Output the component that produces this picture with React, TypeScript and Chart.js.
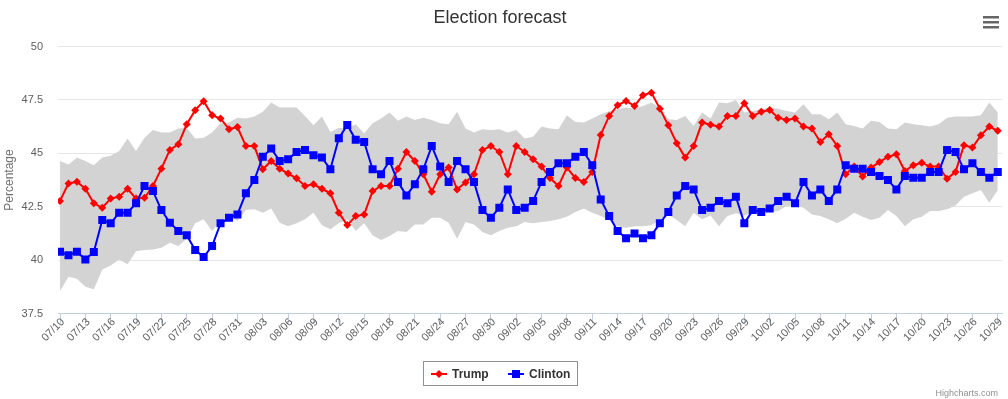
import React, { useEffect, useRef } from 'react';
import { Chart, registerables } from 'chart.js';

Chart.register(...registerables);

const dates = [
  '07/10','07/11','07/12','07/13','07/14','07/15','07/16','07/17','07/18','07/19','07/20','07/21','07/22','07/23','07/24','07/25','07/26','07/27','07/28','07/29','07/30','07/31',
  '08/01','08/02','08/03','08/04','08/05','08/06','08/07','08/08','08/09','08/10','08/11','08/12','08/13','08/14','08/15','08/16','08/17','08/18','08/19','08/20','08/21','08/22','08/23','08/24','08/25','08/26','08/27','08/28','08/29','08/30','08/31',
  '09/01','09/02','09/03','09/04','09/05','09/06','09/07','09/08','09/09','09/10','09/11','09/12','09/13','09/14','09/15','09/16','09/17','09/18','09/19','09/20','09/21','09/22','09/23','09/24','09/25','09/26','09/27','09/28','09/29','09/30',
  '10/01','10/02','10/03','10/04','10/05','10/06','10/07','10/08','10/09','10/10','10/11','10/12','10/13','10/14','10/15','10/16','10/17','10/18','10/19','10/20','10/21','10/22','10/23','10/24','10/25','10/26','10/27','10/28','10/29',
];

const trump = [
  42.77, 43.59, 43.67, 43.34, 42.66, 42.45, 42.88, 42.97, 43.34, 42.88,
  42.92, 43.47, 44.28, 45.16, 45.42, 46.36, 47.02, 47.44, 46.78, 46.63,
  46.13, 46.23, 45.34, 45.34, 44.25, 44.64, 44.28, 44.05, 43.83, 43.47,
  43.55, 43.34, 43.13, 42.22, 41.64, 42.06, 42.14, 43.23, 43.47, 43.47,
  44.28, 45.06, 44.64, 44.02, 43.2, 44.02, 44.33, 43.31, 43.63, 44.02,
  45.16, 45.34, 45.06, 44.02, 45.34, 45.06, 44.72, 44.38, 43.84, 43.47,
  44.33, 43.84, 43.66, 44.13, 45.86, 46.75, 47.25, 47.45, 47.22, 47.72,
  47.84, 47.09, 46.31, 45.47, 44.8, 45.34, 46.44, 46.34, 46.25, 46.75,
  46.75, 47.34, 46.75, 46.94, 47.03, 46.67, 46.56, 46.63, 46.25, 46.16,
  45.53, 45.89, 45.34, 44.02, 44.38, 43.91, 44.33, 44.59, 44.84, 44.95,
  44.17, 44.44, 44.56, 44.38, 44.38, 43.81, 44.13, 45.38, 45.27, 45.84,
  46.25, 46.05,
];

const clinton = [
  40.39, 40.23, 40.39, 40.03, 40.38, 41.88, 41.72, 42.22, 42.22, 42.66,
  43.47, 43.23, 42.34, 41.75, 41.36, 41.16, 40.47, 40.14, 40.66, 41.72,
  41.98, 42.14, 43.13, 43.75, 44.84, 45.22, 44.64, 44.72, 45.06, 45.16,
  44.91, 44.8, 44.25, 45.7, 46.33, 45.63, 45.53, 44.25, 44.02, 44.64,
  43.66, 43.03, 43.55, 44.25, 45.34, 44.38, 43.66, 44.64, 44.25, 43.66,
  42.34, 41.98, 42.45, 43.31, 42.34, 42.45, 42.77, 43.66, 44.13, 44.53,
  44.53, 44.84, 45.06, 44.44, 42.84, 42.06, 41.36, 41.02, 41.25, 41.02,
  41.16, 41.72, 42.25, 43.03, 43.47, 43.31, 42.34, 42.45, 42.77, 42.66,
  42.97, 41.72, 42.34, 42.25, 42.41, 42.77, 42.97, 42.66, 43.66, 43.03,
  43.31, 42.77, 43.31, 44.44, 44.28, 44.28, 44.13, 43.94, 43.75, 43.31,
  43.94, 43.86, 43.86, 44.13, 44.13, 45.16, 45.06, 44.25, 44.53, 44.13,
  43.86, 44.13,
];

const bandHigh = [
  44.64, 44.48, 44.8, 44.64, 44.44, 44.8, 44.88, 45.11, 45.69, 45.11,
  45.73, 46.09, 45.97, 45.97, 46.16, 46.2, 45.69, 45.73, 45.97, 46.41,
  46.44, 46.67, 46.63, 46.72, 46.94, 47.38, 47.14, 47.14, 47.14, 46.75,
  46.31, 46.72, 46.0, 46.2, 46.16, 46.36, 45.94, 46.41, 46.63, 46.91,
  46.52, 46.72, 46.56, 46.67, 46.56, 46.41, 46.36, 46.94, 46.16, 45.97,
  46.13, 46.09, 46.13, 45.97, 46.09, 45.69, 45.78, 46.25, 46.16, 46.13,
  46.78, 46.47, 46.44, 46.63, 46.83, 46.97, 47.06, 47.14, 47.09, 47.22,
  47.38, 47.14, 46.59, 46.56, 46.75, 46.28, 46.91, 46.63, 47.38, 47.34,
  47.5, 46.91, 46.98, 47.06, 47.14, 47.09, 46.98, 46.91, 47.3, 46.83,
  46.83, 46.59, 46.91, 46.36, 46.28, 46.16, 46.52, 46.47, 46.16, 46.13,
  46.44, 46.36, 46.31, 46.25, 46.36, 46.67, 46.72, 46.72, 46.72, 46.78,
  47.38, 46.91,
];

const bandLow = [
  38.55, 39.22, 39.13, 38.75, 38.63, 39.56, 39.75, 40.03, 39.8, 40.42,
  40.47, 40.5, 40.58, 40.81, 40.66, 41.0, 41.72, 41.91, 41.36, 41.83,
  42.06, 41.83, 42.34, 42.38, 42.22, 42.41, 41.75, 41.59, 41.72, 41.91,
  42.22, 41.63, 41.44, 41.72, 41.91, 41.36, 41.72, 41.16, 40.94, 41.13,
  41.36, 41.31, 41.67, 41.67, 41.98, 41.98, 41.75, 41.0, 41.78, 41.67,
  41.31, 41.16, 41.36, 41.52, 41.59, 41.78, 41.72, 41.78, 41.83, 41.91,
  42.03, 42.25, 42.41, 42.22, 42.06, 41.88, 41.59, 41.52, 41.59, 41.59,
  41.63, 41.88, 42.14, 41.88, 41.59, 42.22, 41.91, 42.09, 41.59, 42.06,
  42.19, 42.09, 42.19, 42.22, 42.25, 42.3, 42.53, 42.56, 42.45, 42.14,
  42.06, 41.91, 41.72, 41.94, 42.22, 42.03, 41.88, 41.98, 42.34, 42.06,
  41.59, 41.91, 42.03, 42.3, 42.3, 42.38, 42.56, 42.97, 43.13, 43.28,
  42.69, 43.28,
];

const seriesNames = ['Trump', 'Clinton'];
const seriesColors = ['#FF0000', '#0000FF'];
const yTickValues = [37.5, 40, 42.5, 45, 47.5, 50];
const labelEvery = 3;

const FONT = '"Liberation Sans", Arial, Helvetica, sans-serif';

const toXY = (arr: number[]) => arr.map((v, i) => ({ x: i, y: v }));

const decorPlugin = {
  id: 'decor',
  afterDraw(chart: any) {
    const ctx = chart.ctx as CanvasRenderingContext2D;
    ctx.save();
    // title
    ctx.fillStyle = '#333333';
    ctx.font = `18px ${FONT}`;
    ctx.textAlign = 'center';
    ctx.textBaseline = 'middle';
    ctx.fillText('Election forecast', 500, 18);
    // menu icon
    ctx.fillStyle = '#666666';
    for (const yy of [16, 21, 26]) ctx.fillRect(983, yy, 16, 2.5);
    // legend box
    ctx.strokeStyle = '#909090';
    ctx.lineWidth = 1;
    ctx.strokeRect(423.5, 361.5, 154, 24);
    const ly = 374;
    // Trump item
    ctx.strokeStyle = seriesColors[0];
    ctx.lineWidth = 2;
    ctx.beginPath();
    ctx.moveTo(431, ly);
    ctx.lineTo(447, ly);
    ctx.stroke();
    ctx.fillStyle = seriesColors[0];
    ctx.beginPath();
    ctx.moveTo(439, ly - 4);
    ctx.lineTo(443, ly);
    ctx.lineTo(439, ly + 4);
    ctx.lineTo(435, ly);
    ctx.closePath();
    ctx.fill();
    // Clinton item
    ctx.strokeStyle = seriesColors[1];
    ctx.beginPath();
    ctx.moveTo(508, ly);
    ctx.lineTo(524, ly);
    ctx.stroke();
    ctx.fillStyle = seriesColors[1];
    ctx.fillRect(512, ly - 4, 8, 8);
    // legend texts
    ctx.fillStyle = '#333333';
    ctx.font = `bold 12px ${FONT}`;
    ctx.textAlign = 'left';
    ctx.textBaseline = 'middle';
    ctx.fillText(seriesNames[0], 452, ly + 1);
    ctx.fillText(seriesNames[1], 529, ly + 1);
    // credits
    ctx.fillStyle = '#909090';
    ctx.font = `9px ${FONT}`;
    ctx.textAlign = 'right';
    ctx.textBaseline = 'alphabetic';
    ctx.fillText('Highcharts.com', 998, 396);
    ctx.restore();
  },
};

export default function App() {
  const ref = useRef<HTMLCanvasElement | null>(null);

  useEffect(() => {
    if (!ref.current) return;
    const chart = new Chart(ref.current, {
      type: 'line',
      data: {
        datasets: [
          {
            label: seriesNames[1],
            data: toXY(clinton),
            borderColor: seriesColors[1],
            backgroundColor: seriesColors[1],
            borderWidth: 2,
            pointStyle: 'rect',
            pointRadius: 5.66,
            pointBorderWidth: 0,
            tension: 0,
            fill: false,
          },
          {
            label: seriesNames[0],
            data: toXY(trump),
            borderColor: seriesColors[0],
            backgroundColor: seriesColors[0],
            borderWidth: 2,
            pointStyle: 'rectRot',
            pointRadius: 4,
            pointBorderWidth: 0,
            tension: 0,
            fill: false,
          },
          {
            label: 'low',
            data: toXY(bandLow),
            borderColor: 'transparent',
            backgroundColor: 'transparent',
            borderWidth: 0,
            pointRadius: 0,
            tension: 0,
            fill: false,
          },
          {
            label: 'high',
            data: toXY(bandHigh),
            borderColor: 'transparent',
            backgroundColor: 'rgb(211,211,211)',
            borderWidth: 0,
            pointRadius: 0,
            tension: 0,
            fill: '-1',
          },
        ],
      },
      options: {
        responsive: false,
        animation: false,
        devicePixelRatio: 1,
        layout: { padding: { top: 46.5, right: 6, bottom: 0, left: 0 } },
        plugins: {
          legend: { display: false },
          title: { display: false },
          tooltip: { enabled: false },
        },
        events: [],
        scales: {
          x: {
            type: 'linear',
            min: -0.24,
            max: 111.5,
            afterBuildTicks: (s: any) => {
              s.ticks = dates
                .map((_, i) => i)
                .filter((i) => i % labelEvery === 0)
                .map((v) => ({ value: v }));
            },
            afterFit: (s: any) => {
              s.height = 85.5;
            },
            ticks: {
              autoSkip: false,
              minRotation: 45,
              maxRotation: 45,
              padding: -8,
              labelOffset: 3,
              color: '#606060',
              font: { size: 11, family: FONT },
              callback: (v: any) => dates[Math.round(Number(v))] ?? '',
            },
            grid: {
              drawOnChartArea: false,
              color: '#C0D0E0',
              tickLength: 10,
            },
            border: { color: '#C0D0E0', width: 1 },
          },
          y: {
            min: 37.5,
            max: 50,
            afterBuildTicks: (s: any) => {
              s.ticks = yTickValues.map((v) => ({ value: v }));
            },
            afterFit: (s: any) => {
              s.width = 58;
            },
            ticks: {
              padding: 15,
              color: '#606060',
              font: { size: 11, family: FONT },
              callback: (v: any) => String(v),
            },
            grid: { color: '#E6E6E6', drawTicks: false },
            border: { display: false },
            title: {
              display: true,
              text: 'Percentage',
              color: '#707070',
              font: { size: 12, family: FONT },
              padding: { top: 2, bottom: 0 },
            },
          },
        },
      },
      plugins: [decorPlugin],
    });
    return () => chart.destroy();
  }, []);

  return (
    <div style={{ position: 'absolute', left: 0, top: 0, width: 1008, height: 399, background: '#fff' }}>
      <canvas ref={ref} width={1008} height={399} style={{ display: 'block' }} />
    </div>
  );
}
